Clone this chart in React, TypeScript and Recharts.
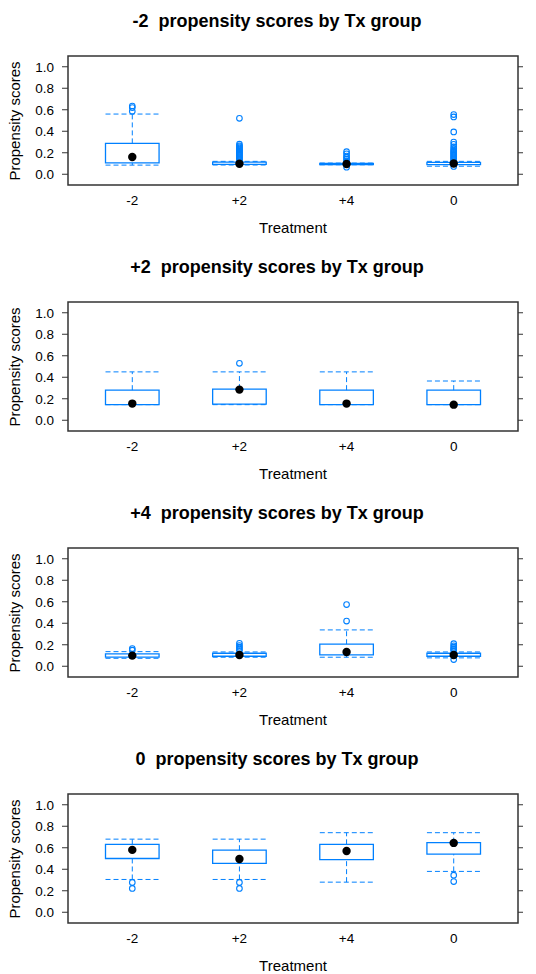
import React from 'react';
import {
  ComposedChart,
  XAxis,
  YAxis,
  Scatter,
  ReferenceArea,
  ReferenceLine,
} from 'recharts';

// treatment groups on the x axis
const groups = ['-2', '+2', '+4', '0'];
const yTicks = [0, 0.2, 0.4, 0.6, 0.8, 1.0];
const panelNames = ['-2', '+2', '+4', '0'];

// box stats per group: [lower whisker, q1, median, q3, upper whisker]
const statsM2 = [
  [0.085, 0.105, 0.16, 0.287, 0.56],
  [0.086, 0.092, 0.098, 0.113, 0.12],
  [0.088, 0.09, 0.095, 0.1, 0.104],
  [0.075, 0.09, 0.1, 0.11, 0.12],
];
const outliersM2 = [
  [0.585, 0.62, 0.635],
  [0.125, 0.135, 0.145, 0.155, 0.165, 0.175, 0.185, 0.195, 0.205, 0.215, 0.225, 0.235, 0.245, 0.255, 0.265, 0.28, 0.52],
  [0.065, 0.115, 0.125, 0.14, 0.155, 0.17, 0.19, 0.21],
  [0.072, 0.125, 0.135, 0.145, 0.155, 0.165, 0.175, 0.185, 0.195, 0.205, 0.215, 0.225, 0.24, 0.255, 0.278, 0.3, 0.394, 0.533, 0.555],
];

const statsP2 = [
  [0.145, 0.145, 0.155, 0.28, 0.45],
  [0.145, 0.15, 0.285, 0.29, 0.45],
  [0.145, 0.145, 0.155, 0.28, 0.45],
  [0.145, 0.145, 0.145, 0.28, 0.365],
];
const outliersP2 = [[], [0.53], [], []];

const statsP4 = [
  [0.074, 0.085, 0.099, 0.115, 0.136],
  [0.084, 0.093, 0.105, 0.121, 0.133],
  [0.084, 0.105, 0.133, 0.205, 0.338],
  [0.078, 0.093, 0.105, 0.121, 0.133],
];
const outliersP4 = [
  [0.15, 0.165],
  [0.146, 0.161, 0.177, 0.192, 0.214],
  [0.42, 0.574],
  [0.062, 0.146, 0.155, 0.165, 0.177, 0.19, 0.21],
];

const statsZ = [
  [0.305, 0.5, 0.58, 0.632, 0.68],
  [0.305, 0.455, 0.495, 0.577, 0.68],
  [0.28, 0.49, 0.57, 0.632, 0.74],
  [0.38, 0.54, 0.645, 0.648, 0.74],
];
const outliersZ = [[0.277, 0.222], [0.277, 0.222], [], [0.345, 0.285]];

const allStats = [statsM2, statsP2, statsP4, statsZ];
const allOutliers = [outliersM2, outliersP2, outliersP4, outliersZ];

const BLUE = '#0080ff';
const FRAME = '#333';
const FONT = '"Liberation Sans", Arial, sans-serif';
const HALF = 0.25;
const X_DOMAIN: [number, number] = [0.4, 4.6];
const Y_DOMAIN: [number, number] = [-0.1, 1.1];

interface PanelProps {
  name: string;
  stats: number[][];
  outliers: number[][];
}

const Panel: React.FC<PanelProps> = ({ name, stats, outliers }) => {
  const medians = stats.map((s, i) => ({ x: i + 1, y: s[2] }));
  const outs = outliers.flatMap((vals, i) => vals.map((v) => ({ x: i + 1, y: v })));

  return (
    <div style={{ position: 'relative', width: 536, height: 246 }}>
      <div
        style={{
          position: 'absolute',
          top: 12,
          left: 0,
          width: 554,
          textAlign: 'center',
          fontFamily: FONT,
          fontWeight: 'bold',
          fontSize: 18,
          lineHeight: '18px',
          whiteSpace: 'pre',
        }}
      >
        {`${name}  propensity scores by Tx group`}
      </div>
      <div
        style={{
          position: 'absolute',
          top: 220,
          left: 68,
          width: 450,
          textAlign: 'center',
          fontFamily: FONT,
          fontSize: 15,
          lineHeight: '15px',
        }}
      >
        Treatment
      </div>
      <div
        style={{
          position: 'absolute',
          top: 110.5,
          left: -85,
          width: 200,
          height: 20,
          textAlign: 'center',
          fontFamily: FONT,
          fontSize: 15,
          lineHeight: '20px',
          transform: 'rotate(-90deg)',
        }}
      >
        Propensity scores
      </div>
      <ComposedChart
        width={536}
        height={246}
        margin={{ top: 56, right: 13, bottom: 31, left: 0 }}
        style={{ position: 'absolute', top: 0, left: 0 }}
      >
        <XAxis
          type="number"
          dataKey="x"
          domain={X_DOMAIN}
          ticks={[1, 2, 3, 4]}
          tickFormatter={(v: number) => groups[v - 1]}
          tickLine={false}
          tickSize={6}
          tickMargin={4}
          axisLine={false}
          tick={{ fill: '#000', fontSize: 13.5, fontFamily: FONT }}
          height={30}
          allowDataOverflow
        />
        <YAxis
          type="number"
          dataKey="y"
          domain={Y_DOMAIN}
          ticks={yTicks}
          tickFormatter={(v: number) => v.toFixed(1)}
          width={68}
          tickSize={6}
          tickMargin={8}
          tickLine={{ stroke: FRAME }}
          axisLine={false}
          tick={{ fill: '#000', fontSize: 13.5, fontFamily: FONT }}
          allowDataOverflow
        />
        <YAxis
          yAxisId="right"
          orientation="right"
          type="number"
          dataKey="y"
          domain={Y_DOMAIN}
          ticks={yTicks}
          width={5}
          tickSize={5}
          tickMargin={0}
          tickFormatter={(v: number) => v.toFixed(1)}
          tick={{ fill: 'none', fontSize: 1 }}
          tickLine={{ stroke: FRAME }}
          axisLine={false}
          interval={0}
          allowDataOverflow
        />
        {/* panel frame */}
        <ReferenceArea
          x1={X_DOMAIN[0]}
          x2={X_DOMAIN[1]}
          y1={Y_DOMAIN[0]}
          y2={Y_DOMAIN[1]}
          fill="#fff"
          fillOpacity={0}
          stroke={FRAME}
          strokeWidth={1.5}
          strokeOpacity={1}
        />
        {stats.map((s, i) => (
          <ReferenceArea
            key={`box-${i}`}
            x1={i + 1 - HALF}
            x2={i + 1 + HALF}
            y1={s[1]}
            y2={s[3]}
            fill="#fff"
            fillOpacity={0}
            stroke={BLUE}
            strokeWidth={1.3}
            strokeOpacity={1}
          />
        ))}
        {stats.map((s, i) => (
          <ReferenceLine
            key={`wu-${i}`}
            segment={[{ x: i + 1, y: s[3] }, { x: i + 1, y: s[4] }]}
            stroke={BLUE}
            strokeDasharray="5 3"
          />
        ))}
        {stats.map((s, i) => (
          <ReferenceLine
            key={`wl-${i}`}
            segment={[{ x: i + 1, y: s[0] }, { x: i + 1, y: s[1] }]}
            stroke={BLUE}
            strokeDasharray="5 3"
          />
        ))}
        {stats.map((s, i) => (
          <ReferenceLine
            key={`cu-${i}`}
            segment={[{ x: i + 1 - HALF, y: s[4] }, { x: i + 1 + HALF, y: s[4] }]}
            stroke={BLUE}
            strokeDasharray="5 3"
          />
        ))}
        {stats.map((s, i) => (
          <ReferenceLine
            key={`cl-${i}`}
            segment={[{ x: i + 1 - HALF, y: s[0] }, { x: i + 1 + HALF, y: s[0] }]}
            stroke={BLUE}
            strokeDasharray="5 3"
          />
        ))}
        {/* invisible series bound to the right axis so it gets drawn */}
        <Scatter
          yAxisId="right"
          data={medians}
          isAnimationActive={false}
          shape={() => <g />}
        />
        <Scatter
          data={outs}
          isAnimationActive={false}
          shape={(p: any) => (
            <circle cx={p.cx} cy={p.cy} r={2.8} fill="none" stroke={BLUE} strokeWidth={1.1} />
          )}
        />
        <Scatter
          data={medians}
          isAnimationActive={false}
          shape={(p: any) => <circle cx={p.cx} cy={p.cy} r={4.2} fill="#000" />}
        />
      </ComposedChart>
    </div>
  );
};

export default function App() {
  return (
    <div
      style={{
        position: 'absolute',
        top: 0,
        left: 0,
        width: 536,
        height: 974,
        overflow: 'hidden',
        background: '#fff',
      }}
    >
      {panelNames.map((n, k) => (
        <Panel key={n} name={n} stats={allStats[k]} outliers={allOutliers[k]} />
      ))}
    </div>
  );
}
